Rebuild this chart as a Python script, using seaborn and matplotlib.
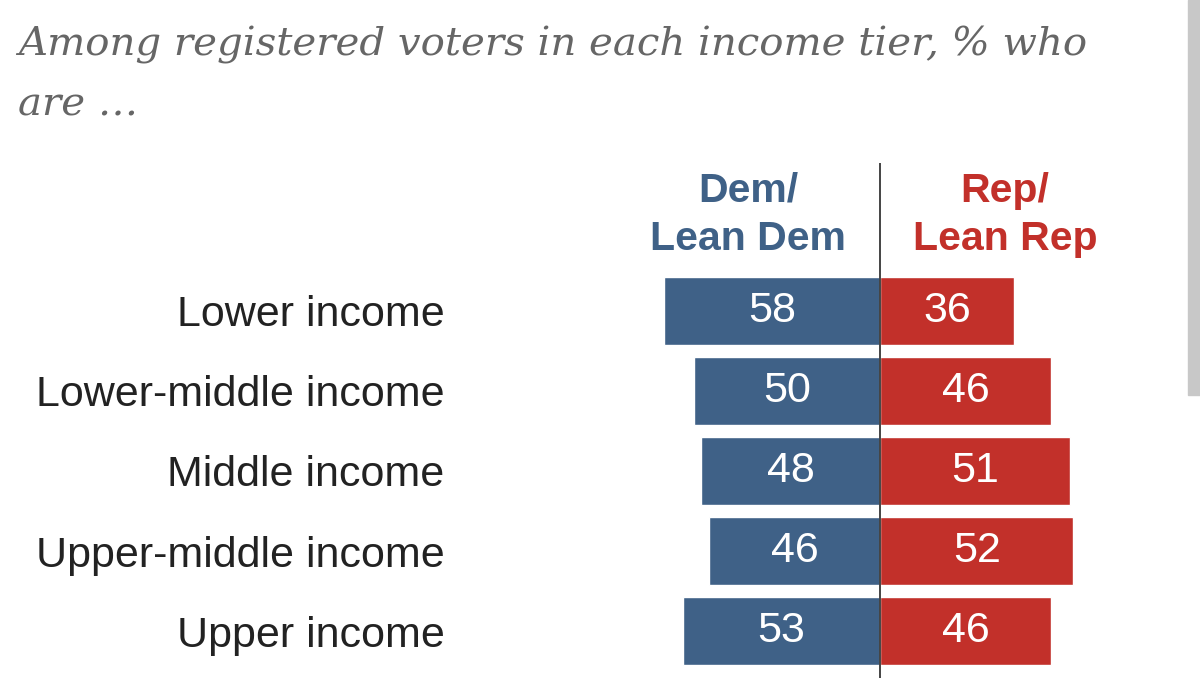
import pandas as pd
import seaborn as sns
import matplotlib.pyplot as plt
from matplotlib.patches import Rectangle

# Data
tiers = ['Lower income', 'Lower-middle income', 'Middle income',
         'Upper-middle income', 'Upper income']
dem = [58, 50, 48, 46, 53]
rep = [36, 46, 51, 52, 46]

df = pd.DataFrame({'tier': tiers, 'dem': dem, 'rep': rep})
df['dem_neg'] = -df['dem']

blue = '#3f6187'
red = '#c2302a'

sns.set_style('white')
plt.rcParams['font.family'] = ['Liberation Sans', 'DejaVu Sans']

fig = plt.figure(figsize=(12, 7), dpi=100)
ax = fig.add_axes([0.5, 1 - 678 / 700, 0.4833, 515 / 700])

sns.barplot(data=df, x='dem_neg', y='tier', orient='h', color=blue,
            width=0.85, saturation=1, ax=ax)
sns.barplot(data=df, x='rep', y='tier', orient='h', color=red,
            width=0.85, saturation=1, ax=ax)

ax.set_xlim(-75.27, 80.65)
ax.set_ylim(4.5875, -1.85)
ax.axvline(0, color='#444444', lw=1.4, zorder=5)

# value labels
for i, (d, r) in enumerate(zip(dem, rep)):
    ax.text(-d / 2, i, str(d), color='white', fontsize=31,
            ha='center', va='center', zorder=6)
    ax.text(r / 2, i, str(r), color='white', fontsize=31,
            ha='center', va='center', zorder=6)

# column headers
ax.text(-35.5, -1.2, 'Dem/\nLean Dem', color=blue, fontsize=29.5,
        fontweight='bold', ha='center', va='center', linespacing=1.35)
ax.text(33.6, -1.2, 'Rep/\nLean Rep', color=red, fontsize=29.5,
        fontweight='bold', ha='center', va='center', linespacing=1.35)

ax.set_xlabel('')
ax.set_ylabel('')
ax.set_xticks([])
ax.tick_params(axis='y', length=0, pad=112, labelsize=31, labelcolor='#222222')
for lbl in ax.get_yticklabels():
    lbl.set_horizontalalignment('right')
sns.despine(ax=ax, left=True, bottom=True)

# title
fig.text(18 / 1200, 1 - 55 / 700, 'Among registered voters in each income tier, % who',
         fontsize=29, style='italic', family='DejaVu Serif', color='#666666',
         va='baseline', ha='left')
fig.text(18 / 1200, 1 - 115 / 700, 'are \u2026',
         fontsize=29, style='italic', family='DejaVu Serif', color='#666666',
         va='baseline', ha='left')

# scrollbar strip at the right edge
fig.patches.append(Rectangle((1188 / 1200, 1 - 395 / 700), 12 / 1200, 395 / 700,
                             transform=fig.transFigure, color='#c8c8c8'))

fig.savefig('out.png', dpi=100)
